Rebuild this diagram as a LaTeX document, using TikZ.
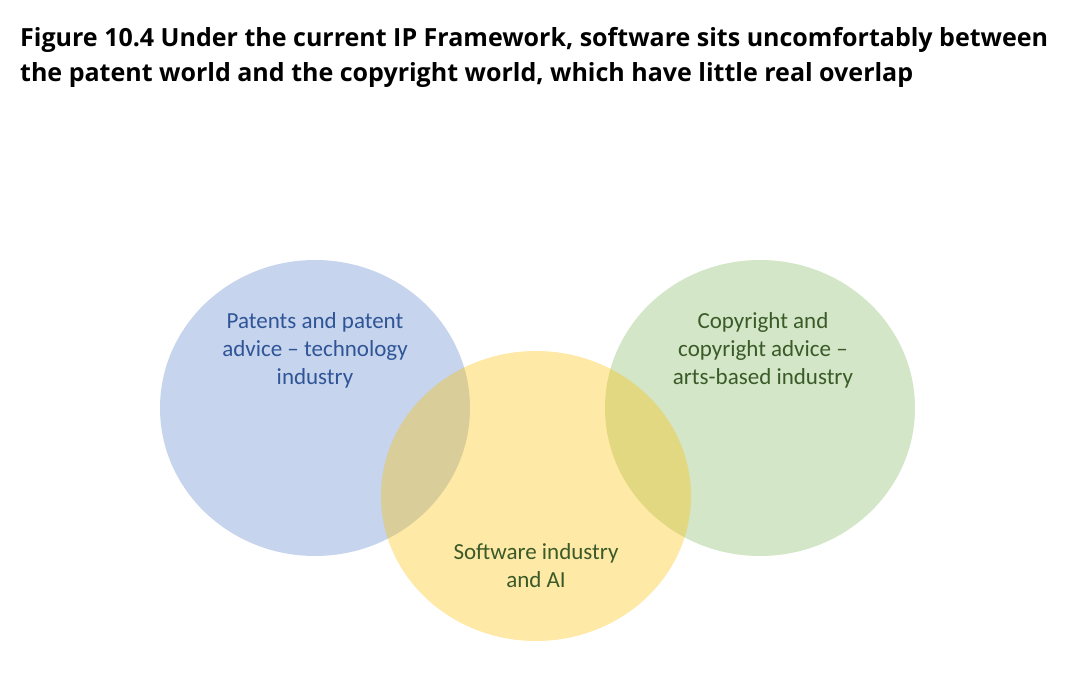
\documentclass[tikz,border=0pt]{standalone}
\usepackage{fontspec}
\setmainfont{Carlito}
\newfontfamily\titlefont{Open Sans}
\definecolor{cblue}{HTML}{4472C4}
\definecolor{cyellow}{HTML}{FFC000}
\definecolor{cgreen}{HTML}{70AD47}
\definecolor{tblue}{HTML}{2F5597}
\definecolor{tgreen}{HTML}{3A5A28}
\newcommand{\ttlfnt}{\titlefont\bfseries\fontsize{25}{35}\selectfont}
\newsavebox{\lineonebox}
\newlength{\lineonewd}
\AtBeginDocument{%
  \sbox{\lineonebox}{\ttlfnt Figure 10.4 Under the current IP Framework, software sits uncomfortably between}%
  \setlength{\lineonewd}{\wd\lineonebox}%
  \pgfmathsetmacro{\sxglobal}{1028/\lineonewd}%
  \xdef\sx{\sxglobal}%
}
\begin{document}
\begin{tikzpicture}[x=1pt,y=-1pt,
  venn/.style={fill opacity=0.3, draw=none},
  lbl/.style={align=center, font=\fontsize{23}{28}\selectfont, inner sep=0pt},
  ttl/.style={anchor=base west, inner sep=0pt}]
\useasboundingbox (0,0) rectangle (1080,700);
\fill[white] (0,0) rectangle (1080,700);
\fill[venn, cblue] (315,408) ellipse [x radius=155, y radius=148];
\fill[venn, cgreen] (760,408) ellipse [x radius=155, y radius=148];
\fill[cyellow, fill opacity=0.35] (536,496) ellipse [x radius=155, y radius=145];
\node[ttl] (t1) at (20,47) {\scalebox{\sx}[1]{\ttlfnt Figure 10.4 Under the current IP Framework, software sits uncomfortably between}};
\node[ttl] (t2) at (20,82) {\scalebox{\sx}[1]{\ttlfnt the patent world and the copyright world, which have little real overlap}};
\node[lbl, text=tblue] (p) at (315,350) {Patents and patent\\advice -- technology\\industry};
\node[lbl, text=tgreen] (c) at (763,350) {Copyright and\\copyright advice --\\arts-based industry};
\node[lbl, text=tgreen] (s) at (536,566) {Software industry\\and AI};
\end{tikzpicture}
\end{document}
